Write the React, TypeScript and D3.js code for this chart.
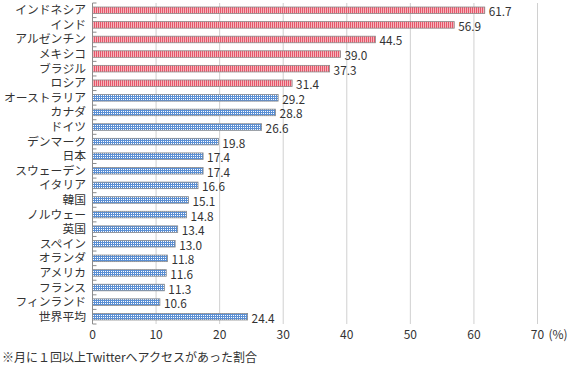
import React, { useEffect, useRef } from 'react'
import * as d3 from 'd3'

const countries = ['インドネシア', 'インド', 'アルゼンチン', 'メキシコ', 'ブラジル', 'ロシア', 'オーストラリア', 'カナダ', 'ドイツ', 'デンマーク', '日本', 'スウェーデン', 'イタリア', '韓国', 'ノルウェー', '英国', 'スペイン', 'オランダ', 'アメリカ', 'フランス', 'フィンランド', '世界平均']
const values = [61.7, 56.9, 44.5, 39.0, 37.3, 31.4, 29.2, 28.8, 26.6, 19.8, 17.4, 17.4, 16.6, 15.1, 14.8, 13.4, 13.0, 11.8, 11.6, 11.3, 10.6, 24.4]
// first six countries drawn in red stripes, the rest in blue dots
const highGroup = ['インドネシア', 'インド', 'アルゼンチン', 'メキシコ', 'ブラジル', 'ロシア']
const xTicks = [0, 10, 20, 30, 40, 50, 60, 70]
const note = '※月に１回以上Twitterへアクセスがあった割合'

const font = '"Noto Sans CJK JP", "Noto Sans", sans-serif'

export default function App() {
  const ref = useRef<SVGSVGElement>(null)

  useEffect(() => {
    const width = 572
    const height = 367
    const margin = { top: 3, left: 92.5, right: 34.5, bottom: 43 }

    const svg = d3.select(ref.current)
    svg.selectAll('*').remove()

    const defs = svg.append('defs')
    const red = defs.append('pattern')
      .attr('id', 'redStripe')
      .attr('patternUnits', 'userSpaceOnUse')
      .attr('width', 2).attr('height', 2)
    red.append('rect').attr('width', 2).attr('height', 2).attr('fill', '#f6b4bb')
    red.append('rect').attr('width', 1).attr('height', 2).attr('fill', '#e5566a')

    const blue = defs.append('pattern')
      .attr('id', 'blueDot')
      .attr('patternUnits', 'userSpaceOnUse')
      .attr('width', 2).attr('height', 2)
    blue.append('rect').attr('width', 2).attr('height', 2).attr('fill', '#5a8fd4')
    blue.append('rect').attr('x', 1).attr('y', 1).attr('width', 1).attr('height', 1).attr('fill', '#ffffff')

    const x = d3.scaleLinear().domain([0, 70]).range([margin.left, width - margin.right])
    const y = d3.scaleBand<string>()
      .domain(countries)
      .range([margin.top, height - margin.bottom])
      .paddingInner(0.55)
      .paddingOuter(0.275)

    const step = y.step()
    const top = margin.top
    const bottom = height - margin.bottom

    // gridlines
    svg.append('g')
      .selectAll('line')
      .data(xTicks.slice(1))
      .enter()
      .append('line')
      .attr('x1', d => x(d)).attr('x2', d => x(d))
      .attr('y1', top).attr('y2', bottom)
      .attr('stroke', '#d0d0d0')
      .attr('stroke-width', 1)

    // y axis line and small ticks between rows
    svg.append('line')
      .attr('x1', x(0)).attr('x2', x(0))
      .attr('y1', top).attr('y2', bottom)
      .attr('stroke', '#8c8c8c')
    svg.append('g')
      .selectAll('line')
      .data(d3.range(countries.length + 1))
      .enter()
      .append('line')
      .attr('x1', x(0)).attr('x2', x(0) + 4)
      .attr('y1', i => top + i * step).attr('y2', i => top + i * step)
      .attr('stroke', '#8c8c8c')

    // bars
    svg.append('g')
      .selectAll('rect')
      .data(countries)
      .enter()
      .append('rect')
      .attr('x', x(0))
      .attr('y', d => y(d)!)
      .attr('width', (d, i) => x(values[i]) - x(0))
      .attr('height', y.bandwidth())
      .attr('fill', d => highGroup.includes(d) ? 'url(#redStripe)' : 'url(#blueDot)')
      .attr('stroke', '#8a8a8a')
      .attr('stroke-width', 0.8)

    // value labels
    svg.append('g')
      .selectAll('text')
      .data(countries)
      .enter()
      .append('text')
      .attr('x', (d, i) => x(values[i]) + 4)
      .attr('y', d => y(d)! + y.bandwidth() / 2 + 6)
      .attr('font-family', font)
      .attr('font-size', 11.8)
      .attr('fill', '#333')
      .text((d, i) => values[i].toFixed(1))

    // category labels
    svg.append('g')
      .selectAll('text')
      .data(countries)
      .enter()
      .append('text')
      .attr('x', 86)
      .attr('y', d => y(d)! + y.bandwidth() / 2 + 4)
      .attr('text-anchor', 'end')
      .attr('font-family', font)
      .attr('font-size', 11.8)
      .attr('fill', '#333')
      .text(d => d)

    // x tick labels
    svg.append('g')
      .selectAll('text')
      .data(xTicks)
      .enter()
      .append('text')
      .attr('x', d => x(d))
      .attr('y', 339)
      .attr('text-anchor', 'middle')
      .attr('font-family', font)
      .attr('font-size', 12)
      .attr('fill', '#333')
      .text(d => d)

    svg.append('text')
      .attr('x', x(70) + 11)
      .attr('y', 339)
      .attr('font-family', font)
      .attr('font-size', 12)
      .attr('fill', '#333')
      .text('(%)')

    svg.append('text')
      .attr('x', 2)
      .attr('y', 362)
      .attr('font-family', font)
      .attr('font-size', 12)
      .attr('fill', '#333')
      .text(note)
  }, [])

  return (
    <svg ref={ref} width={572} height={367}
      style={{ position: 'absolute', left: 0, top: 0, background: '#fff' }} />
  )
}
